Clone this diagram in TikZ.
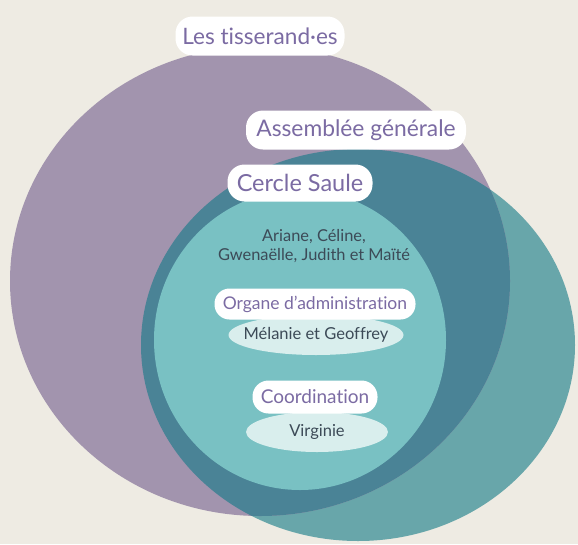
\documentclass[tikz,border=0pt]{standalone}
\usepackage{fontspec}
\setmainfont[Ligatures={NoCommon}]{Lato}
\usetikzlibrary{shapes.geometric}
\definecolor{bgc}{HTML}{EEEBE3}
\definecolor{purp}{HTML}{A294AE}
\definecolor{tealo}{HTML}{68A6AA}
\definecolor{teald}{HTML}{4A8396}
\definecolor{teall}{HTML}{79C1C3}
\definecolor{pale}{HTML}{D9EEED}
\definecolor{labtxt}{HTML}{7B6BA3}
\definecolor{nametxt}{HTML}{3C4A57}
\tikzset{
  labbox/.style={fill=white, rounded corners=17pt, inner sep=0pt, text=labtxt, align=center},
  namesell/.style={ellipse, fill=pale, inner sep=0pt, text=nametxt},
  names/.style={text=nametxt, align=center, inner sep=0pt}
}
\begin{document}
\begin{tikzpicture}[x=1pt,y=-1pt]
\fill[bgc] (0,0) rectangle (578,544);
\useasboundingbox (0,0) rectangle (578,544);
% Assemblée générale (teal) and Les tisserand·es (purple)
\fill[tealo] (358,345) ellipse [x radius=217, y radius=196];
\fill[purp] (260,281) ellipse [x radius=250, y radius=235];
\begin{scope}
  \clip (260,281) ellipse [x radius=250, y radius=235];
  \fill[teald] (358,345) ellipse [x radius=217, y radius=196];
\end{scope}
% Cercle Saule
\fill[teall] (300,340) ellipse [x radius=146, y radius=150];
% names
\node[names, font=\fontsize{16.4}{19.5}\selectfont] (cnames) at (314,246) {Ariane, Céline,\\Gwenaëlle, Judith et Maïté};
\node[namesell, minimum width=175pt, minimum height=40pt, font=\fontsize{16.5}{19}\selectfont] (mel) at (316,335) {\makebox[0pt]{Mélanie et Geoffrey}};
\node[namesell, minimum width=142pt, minimum height=40pt, font=\fontsize{16.5}{19}\selectfont] (vir) at (317,432) {\makebox[0pt]{Virginie}};
% labels
\node[labbox, minimum width=169pt, minimum height=39pt, font=\fontsize{22.6}{25}\selectfont] (tis) at (260,36) {Les tisserand·es};
\node[labbox, minimum width=220pt, minimum height=39pt, font=\fontsize{22.8}{25}\selectfont] (ag) at (356,130) {Assemblée générale};
\node[labbox, minimum width=145pt, minimum height=37pt, font=\fontsize{23.5}{26}\selectfont] (cs) at (300,183) {Cercle Saule};
\node[labbox, rounded corners=15pt, minimum width=201pt, minimum height=31pt, font=\fontsize{17.5}{20}\selectfont] (org) at (315,304) {Organe d’administration};
\node[labbox, rounded corners=16pt, minimum width=125pt, minimum height=33pt, font=\fontsize{19}{21}\selectfont] (coord) at (315,397) {Coordination};
\end{tikzpicture}
\end{document}
